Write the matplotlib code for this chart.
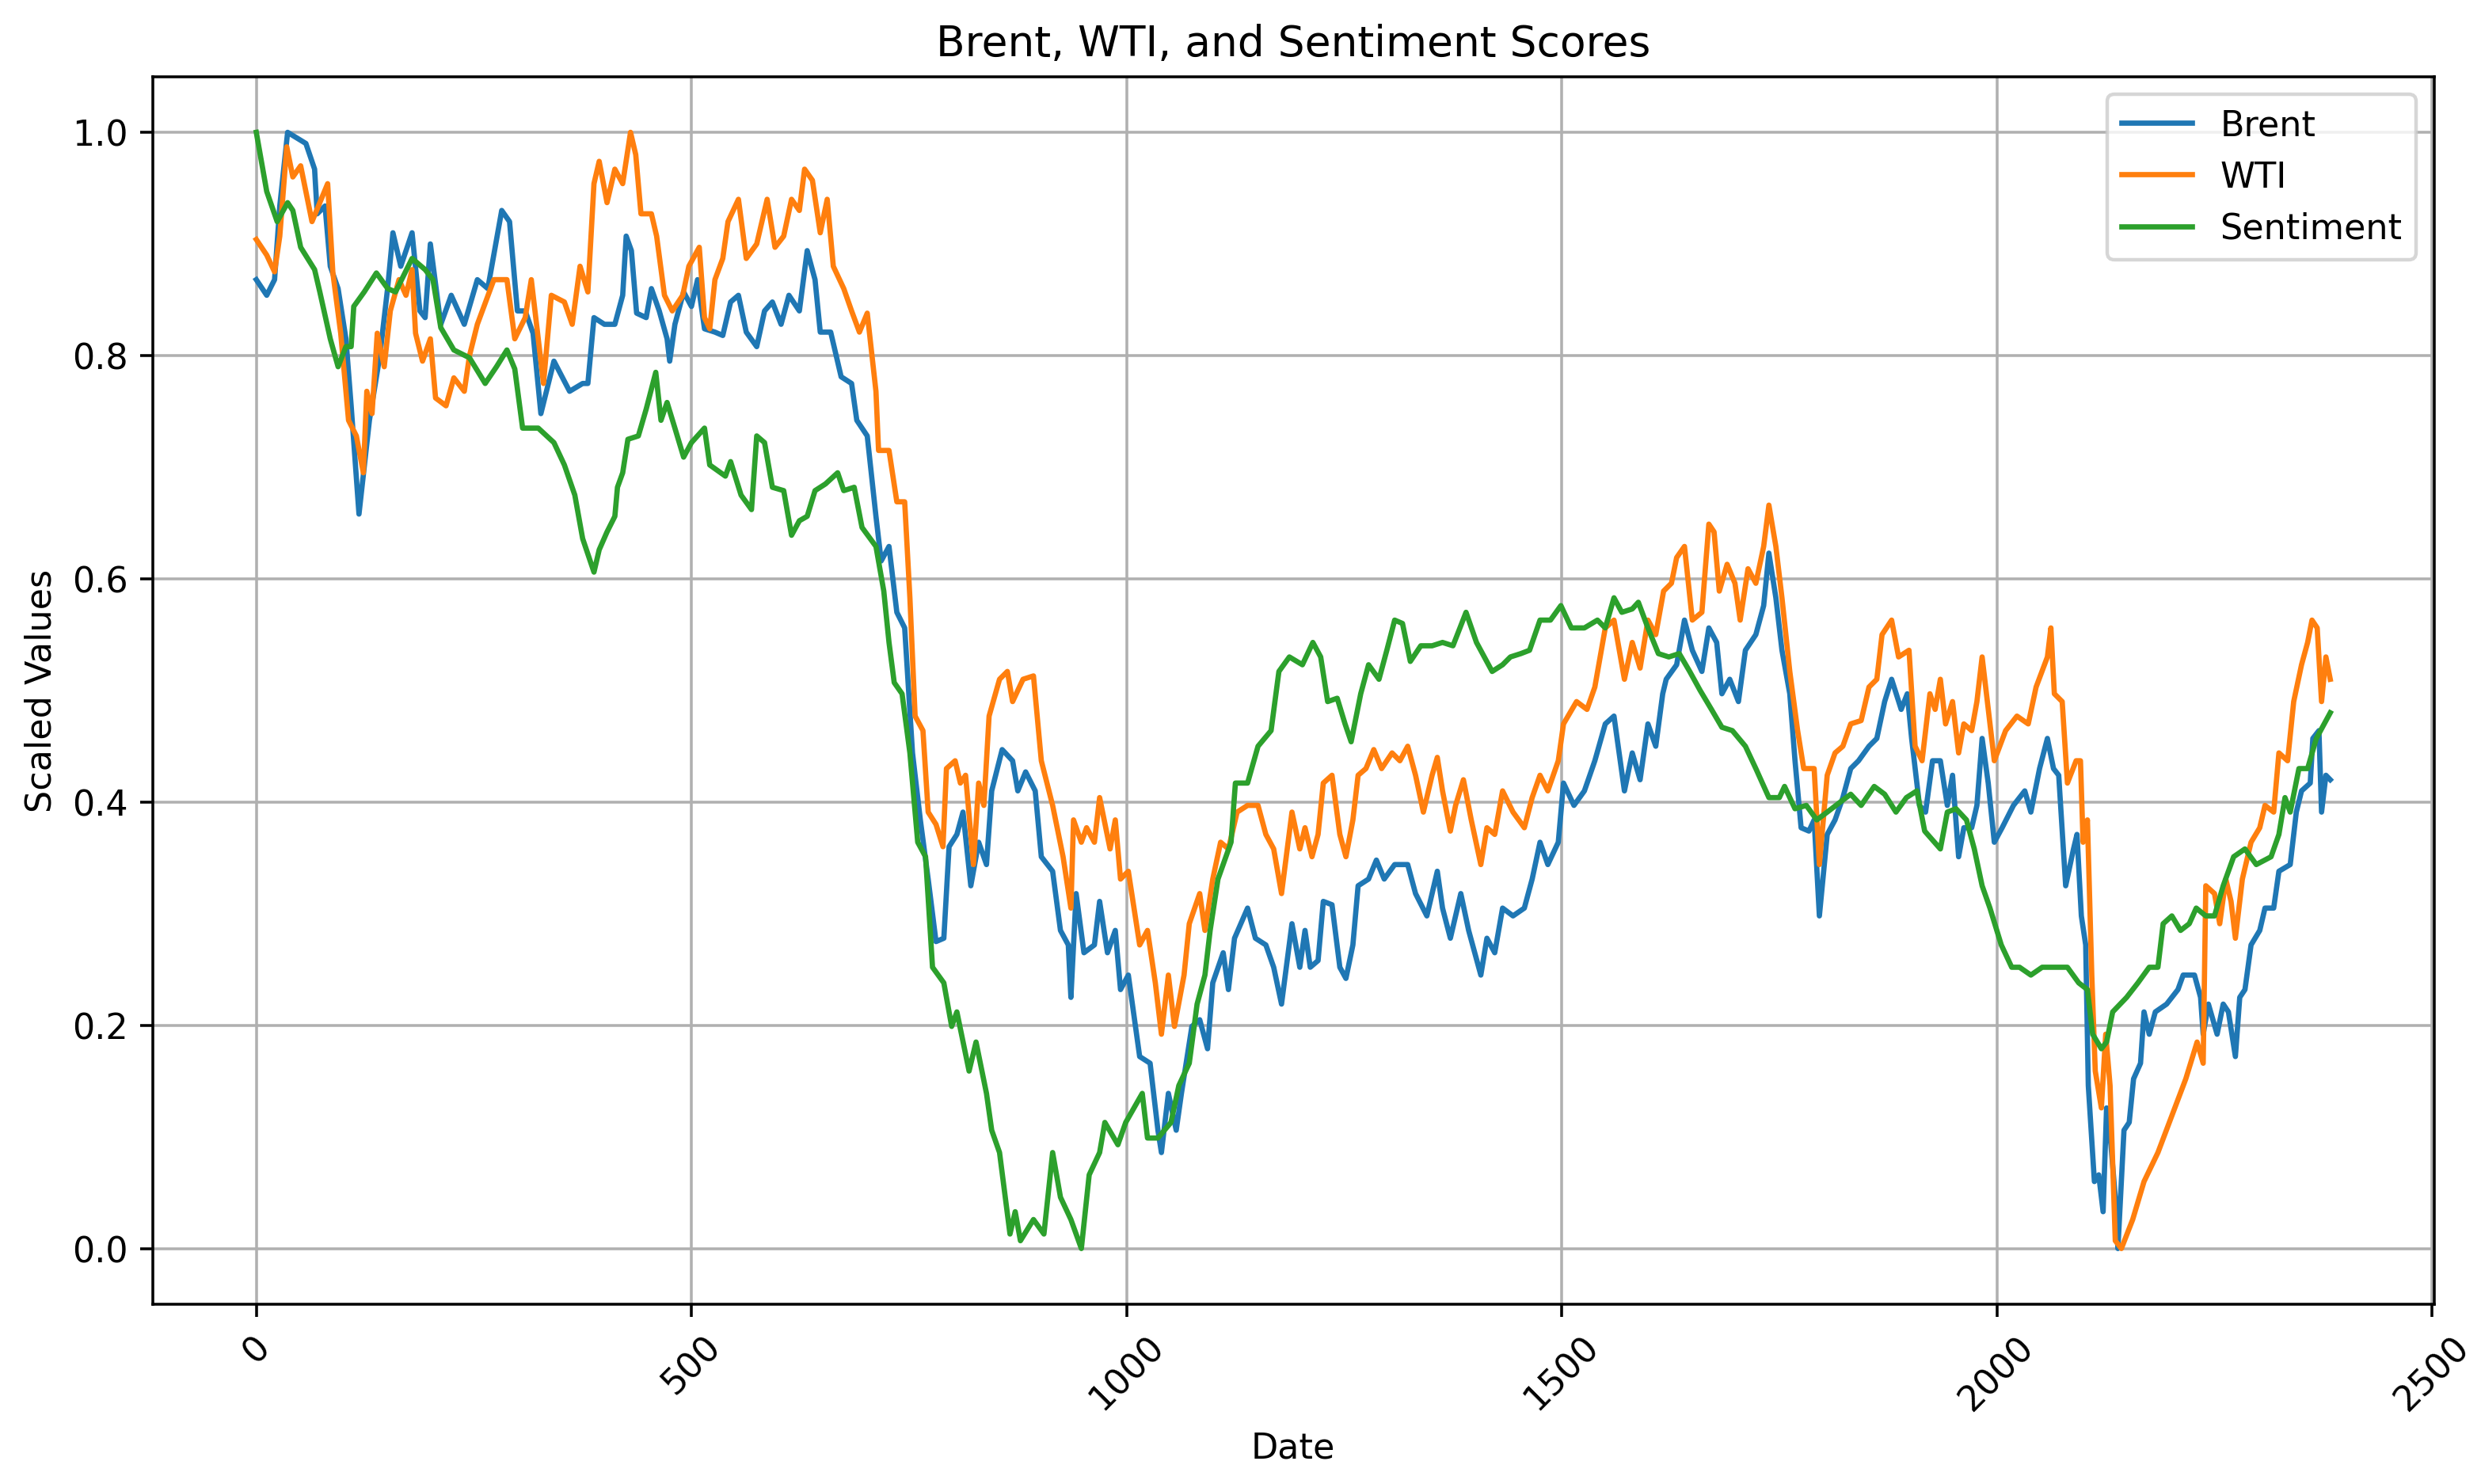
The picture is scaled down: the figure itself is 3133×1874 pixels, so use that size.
import matplotlib
matplotlib.use("Agg")
import matplotlib.pyplot as plt

# values (index, scaled value)
brent_x = [0, 12, 21, 27, 36, 57, 67, 70, 79, 85, 94, 103, 109, 118, 130, 142, 151, 157, 166, 179,
           188, 194, 200, 212, 224, 239, 254, 266, 282, 291, 300, 309, 318, 327, 342, 360, 375, 381, 388, 400,
           412, 421, 425, 431, 437, 448, 454, 463, 472, 475, 481, 491, 500, 507, 515, 527, 536, 545, 554, 563,
           575, 584, 593, 603, 612, 624, 633, 642, 648, 660, 672, 684, 690, 702, 712, 718, 727, 736, 745, 754,
           763, 772, 781, 790, 796, 805, 812, 821, 830, 839, 845, 857, 869, 875, 884, 895, 902, 915, 924, 933,
           936, 942, 951, 963, 969, 978, 987, 993, 1002, 1015, 1027, 1036, 1040, 1048, 1057, 1063, 1075, 1084, 1093, 1099,
           1111, 1117, 1124, 1139, 1148, 1160, 1169, 1178, 1190, 1199, 1205, 1211, 1220, 1226, 1236, 1245, 1252, 1260, 1266, 1278,
           1287, 1296, 1308, 1323, 1332, 1345, 1357, 1363, 1372, 1384, 1393, 1407, 1414, 1423, 1432, 1444, 1457, 1466, 1475, 1484,
           1496, 1502, 1514, 1526, 1538, 1550, 1560, 1572, 1581, 1590, 1599, 1608, 1616, 1620, 1632, 1641, 1650, 1661, 1669, 1678,
           1684, 1693, 1703, 1711, 1723, 1732, 1738, 1746, 1753, 1762, 1768, 1775, 1784, 1790, 1796, 1805, 1814, 1823, 1832, 1841,
           1853, 1862, 1871, 1879, 1890, 1897, 1902, 1911, 1918, 1926, 1935, 1943, 1949, 1956, 1962, 1971, 1977, 1983, 1990, 1997,
           2006, 2019, 2032, 2039, 2049, 2058, 2065, 2071, 2079, 2088, 2092, 2097, 2102, 2105, 2112, 2117, 2122, 2126, 2131, 2136,
           2139, 2146, 2152, 2157, 2165, 2169, 2175, 2182, 2195, 2208, 2214, 2227, 2234, 2237, 2243, 2253, 2260, 2266, 2274, 2279,
           2285, 2292, 2302, 2308, 2318, 2324, 2337, 2344, 2350, 2360, 2363, 2370, 2373, 2378, 2383]
brent = [.868, .854, .868, .934, 1.0, .99, .967, .927, .934, .88, .86, .815, .755, .658, .742, .80, .861, .91, .88, .91,
         .84, .834, .90, .828, .854, .828, .868, .86, .93, .92, .84, .84, .82, .748, .795, .768, .775, .775, .834, .828,
         .828, .854, .907, .894, .838, .834, .86, .84, .815, .795, .828, .857, .844, .868, .824, .821, .818, .848, .854, .821,
         .808, .84, .848, .828, .854, .84, .894, .868, .821, .821, .781, .775, .742, .728, .656, .616, .629, .57, .556, .444,
         .384, .331, .275, .278, .36, .371, .391, .325, .364, .344, .41, .447, .437, .41, .427, .41, .351, .338, .285, .272,
         .225, .318, .265, .272, .311, .265, .285, .232, .245, .172, .166, .106, .086, .139, .106, .139, .199, .205, .179, .238,
         .265, .232, .278, .305, .278, .272, .252, .219, .291, .252, .285, .252, .258, .311, .308, .252, .242, .272, .325, .331,
         .348, .331, .344, .344, .318, .298, .338, .305, .278, .318, .285, .245, .278, .265, .305, .298, .305, .331, .364, .344,
         .364, .417, .397, .41, .437, .47, .477, .41, .444, .42, .47, .45, .497, .51, .523, .563, .536, .517, .556, .543,
         .497, .51, .49, .536, .55, .576, .623, .583, .536, .497, .437, .377, .374, .384, .298, .371, .384, .404, .43, .437,
         .45, .457, .49, .51, .483, .497, .457, .397, .391, .437, .437, .397, .424, .351, .377, .377, .397, .457, .417, .364,
         .377, .397, .41, .391, .43, .457, .43, .424, .325, .358, .371, .298, .272, .146, .06, .066, .033, .126, .093, .046,
         .0, .106, .113, .152, .166, .212, .192, .212, .219, .232, .245, .245, .225, .192, .219, .192, .219, .212, .172, .225,
         .232, .272, .285, .305, .305, .338, .344, .391, .41, .417, .457, .464, .391, .424, .42]

wti_x = [0, 12, 21, 27, 35, 42, 51, 64, 73, 82, 88, 97, 106, 115, 123, 127, 133, 139, 147, 154,
         164, 172, 179, 183, 191, 200, 206, 218, 227, 239, 245, 254, 273, 288, 297, 309, 316, 330, 339, 354,
         363, 372, 381, 388, 394, 403, 412, 421, 430, 436, 442, 454, 460, 469, 478, 490, 497, 509, 515, 521,
         527, 536, 542, 554, 563, 575, 587, 596, 606, 615, 624, 630, 639, 648, 656, 663, 675, 684, 693, 702,
         712, 715, 727, 736, 745, 751, 757, 766, 772, 781, 789, 793, 803, 809, 815, 824, 830, 836, 842, 854,
         863, 869, 881, 893, 902, 915, 927, 936, 939, 948, 954, 963, 969, 981, 987, 993, 1002, 1015, 1024, 1033,
         1040, 1048, 1055, 1066, 1072, 1084, 1090, 1099, 1108, 1117, 1127, 1139, 1151, 1160, 1169, 1178, 1190, 1199, 1205, 1213,
         1220, 1226, 1236, 1245, 1252, 1260, 1266, 1275, 1284, 1293, 1305, 1314, 1323, 1332, 1341, 1351, 1357, 1363, 1372, 1378,
         1387, 1396, 1407, 1414, 1423, 1432, 1444, 1457, 1466, 1475, 1484, 1496, 1502, 1517, 1529, 1538, 1550, 1560, 1572, 1581,
         1590, 1599, 1608, 1617, 1626, 1632, 1641, 1650, 1661, 1669, 1675, 1681, 1690, 1699, 1705, 1714, 1723, 1732, 1738, 1746,
         1753, 1762, 1771, 1778, 1790, 1796, 1805, 1814, 1823, 1832, 1844, 1853, 1862, 1868, 1879, 1887, 1899, 1906, 1914, 1923,
         1929, 1935, 1941, 1949, 1956, 1962, 1971, 1977, 1983, 1989, 1997, 2010, 2023, 2036, 2045, 2058, 2062, 2066, 2075, 2081,
         2091, 2096, 2099, 2104, 2109, 2113, 2120, 2125, 2130, 2136, 2143, 2156, 2169, 2185, 2201, 2217, 2230, 2237, 2240, 2250,
         2256, 2263, 2269, 2274, 2282, 2292, 2302, 2308, 2318, 2324, 2334, 2341, 2350, 2357, 2362, 2368, 2373, 2378, 2383]
wti = [.904, .89, .875, .907, .987, .96, .97, .92, .937, .954, .874, .82, .742, .728, .695, .768, .748, .82, .79, .84,
       .868, .854, .877, .82, .795, .815, .762, .755, .78, .768, .80, .828, .868, .868, .815, .834, .868, .775, .854, .848,
       .828, .88, .857, .954, .974, .937, .967, .954, 1.0, .98, .927, .927, .907, .854, .84, .854, .88, .897, .834, .824,
       .868, .887, .92, .94, .887, .90, .94, .897, .907, .94, .93, .967, .957, .91, .94, .88, .86, .84, .821, .838,
       .768, .715, .715, .669, .669, .583, .477, .464, .391, .38, .36, .43, .437, .417, .424, .344, .417, .397, .477, .51,
       .517, .49, .51, .513, .437, .397, .351, .305, .384, .364, .377, .364, .404, .358, .384, .331, .338, .272, .285, .238,
       .192, .245, .199, .245, .291, .318, .285, .331, .364, .358, .391, .397, .397, .371, .358, .318, .391, .358, .377, .351,
       .371, .417, .424, .371, .351, .384, .424, .43, .447, .43, .444, .437, .45, .424, .391, .424, .44, .41, .374, .397,
       .42, .384, .344, .377, .371, .41, .391, .377, .404, .424, .41, .437, .47, .49, .483, .503, .556, .563, .51, .543,
       .52, .563, .55, .589, .596, .619, .629, .563, .57, .649, .642, .589, .613, .596, .563, .609, .596, .629, .666, .629,
       .583, .517, .464, .43, .43, .344, .424, .444, .45, .47, .473, .503, .51, .55, .563, .53, .536, .45, .437, .497,
       .483, .51, .47, .49, .444, .47, .464, .49, .53, .49, .437, .464, .477, .47, .503, .53, .556, .497, .49, .417,
       .437, .437, .364, .384, .245, .159, .126, .192, .146, .007, .0, .026, .06, .086, .119, .152, .185, .166, .325, .318,
       .291, .331, .311, .278, .331, .364, .377, .397, .391, .444, .437, .49, .523, .543, .563, .556, .49, .53, .51]

sentiment_x = [0, 12, 24, 36, 42, 51, 67, 73, 85, 94, 103, 109, 112, 124, 138, 151, 160, 179, 194, 203,
               212, 227, 245, 263, 276, 288, 297, 306, 324, 342, 354, 366, 375, 388, 394, 403, 412, 415, 421, 427,
               439, 448, 459, 465, 472, 481, 491, 500, 515, 521, 539, 545, 557, 569, 575, 584, 593, 606, 615, 624,
               633, 642, 654, 668, 675, 687, 696, 712, 721, 727, 733, 742, 751, 760, 769, 777, 790, 799, 805, 819,
               827, 839, 845, 854, 866, 872, 878, 893, 905, 915, 924, 936, 948, 957, 969, 975, 990, 999, 1018, 1024,
               1036, 1051, 1060, 1072, 1081, 1090, 1096, 1105, 1120, 1125, 1139, 1151, 1166, 1175, 1187, 1202, 1214, 1223, 1231, 1242,
               1251, 1258, 1269, 1278, 1290, 1299, 1308, 1317, 1326, 1338, 1351, 1363, 1375, 1390, 1402, 1420, 1432, 1441, 1453, 1463,
               1475, 1487, 1499, 1511, 1526, 1541, 1550, 1560, 1569, 1581, 1588, 1599, 1611, 1623, 1635, 1647, 1659, 1672, 1684, 1696,
               1711, 1723, 1738, 1750, 1756, 1768, 1781, 1793, 1805, 1820, 1832, 1844, 1859, 1871, 1884, 1896, 1908, 1917, 1935, 1943,
               1953, 1965, 1974, 1983, 1992, 2005, 2017, 2026, 2039, 2052, 2068, 2081, 2094, 2104, 2110, 2120, 2126, 2133, 2149, 2162,
               2175, 2185, 2191, 2201, 2211, 2221, 2229, 2240, 2250, 2260, 2272, 2285, 2298, 2315, 2324, 2331, 2337, 2347, 2357, 2367,
               2376, 2383]
sentiment = [1.0, .947, .92, .937, .93, .897, .877, .857, .815, .79, .808, .808, .844, .857, .874, .86, .857, .887, .877, .868,
             .825, .805, .798, .775, .79, .805, .788, .735, .735, .722, .702, .675, .636, .606, .626, .642, .656, .682, .695, .725,
             .728, .752, .785, .742, .758, .735, .709, .722, .735, .702, .692, .705, .675, .662, .728, .722, .682, .679, .639, .652,
             .656, .679, .685, .695, .679, .682, .646, .629, .589, .543, .507, .497, .444, .364, .351, .252, .238, .199, .212, .159,
             .185, .139, .106, .086, .013, .033, .007, .026, .013, .086, .046, .026, .0, .066, .086, .113, .093, .113, .139, .099,
             .099, .113, .146, .166, .219, .245, .285, .331, .364, .417, .417, .45, .464, .517, .53, .523, .543, .53, .49, .493,
             .47, .454, .497, .523, .51, .536, .563, .56, .526, .54, .54, .543, .54, .57, .543, .517, .523, .53, .533, .536,
             .563, .563, .576, .556, .556, .563, .556, .583, .57, .573, .579, .556, .533, .53, .533, .517, .50, .483, .467, .464,
             .45, .43, .404, .404, .414, .394, .397, .384, .391, .40, .407, .397, .414, .407, .391, .404, .41, .374, .358, .391,
             .394, .384, .358, .325, .305, .272, .252, .252, .245, .252, .252, .252, .238, .232, .192, .179, .185, .212, .225, .238,
             .252, .252, .291, .298, .285, .291, .305, .298, .298, .325, .351, .358, .344, .351, .371, .404, .391, .43, .43, .457,
             .47, .48]

fig = plt.figure(figsize=(9.791, 5.859), dpi=320)

plt.plot(brent_x, brent, label='Brent')
plt.plot(wti_x, wti, label='WTI')
plt.plot(sentiment_x, sentiment, label='Sentiment')

plt.title('Brent, WTI, and Sentiment Scores')
plt.xlabel('Date')
plt.ylabel('Scaled Values')
plt.xticks(rotation=45)
plt.legend(loc='upper right')
plt.grid(True)
plt.subplots_adjust(left=0.0615, right=0.981, bottom=0.121, top=0.948)
plt.savefig('out.png', dpi=320)
